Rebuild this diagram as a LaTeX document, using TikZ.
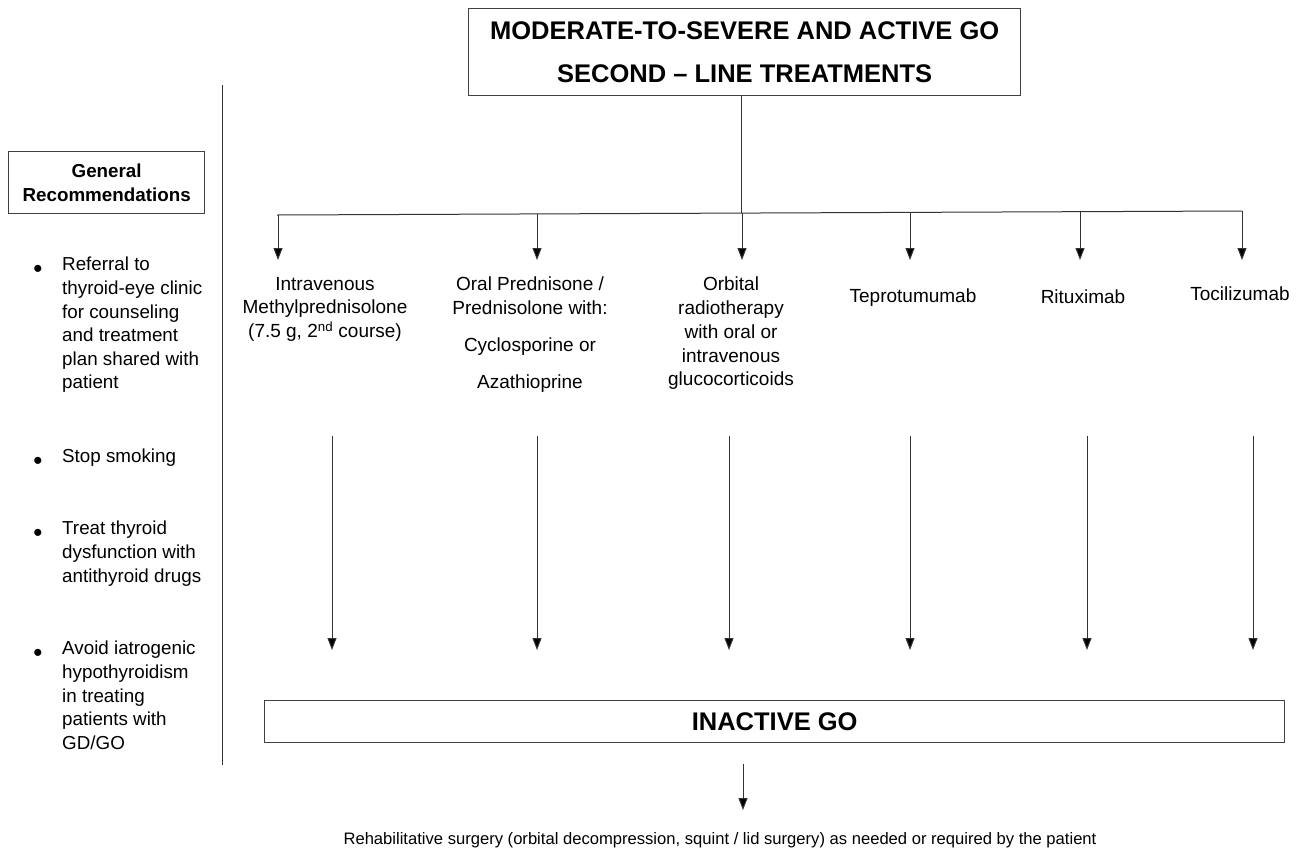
\documentclass[tikz,border=0pt]{standalone}
\usepackage{fontspec}
\setmainfont{Liberation Sans}
\usetikzlibrary{arrows.meta}
\begin{document}
\begin{tikzpicture}[x=1pt,y=-1pt,
  box/.style={draw=black!75,line width=1.3pt},
  lin/.style={draw=black!80,line width=1pt},
  arr/.style={lin,-{Triangle[width=9pt,length=12pt,fill=black]}},
  txt/.style={inner sep=0pt,align=center,font=\fontsize{19}{23.7}\selectfont},
  ltxt/.style={inner sep=0pt,align=left,anchor=north west,font=\fontsize{18.8}{23.6}\selectfont},
  bul/.style={inner sep=0pt,font=\fontsize{26}{26}\selectfont}
]
\useasboundingbox (0,0) rectangle (1301,857);
% top box
\node[box,minimum width=552pt,minimum height=87pt,align=center,
  font=\fontsize{25.5}{43}\bfseries\selectfont,anchor=north west,inner sep=0pt] (top) at (468,8)
  {MODERATE-TO-SEVERE AND ACTIVE GO\\SECOND -- LINE TREATMENTS};
% general rec box
\node[box,minimum width=196pt,minimum height=62pt,align=center,anchor=north west,inner sep=0pt,
  font=\fontsize{18.8}{23.5}\bfseries\selectfont] (gen) at (8,151)
  {General\\Recommendations};
% left separator
\coordinate (sepT) at (222,85);
\coordinate (sepB) at (222,765);
\draw[lin] (sepT) -- (sepB);
% bullets
\node[bul] (b1) at (38,271) {\textbullet};
\node[ltxt] (l1) at (62,257) {Referral to\\thyroid-eye clinic\\for counseling\\and treatment\\plan shared with\\patient};
\node[bul] (b2) at (38,463) {\textbullet};
\node[ltxt] (l2) at (62,449) {Stop smoking};
\node[bul] (b3) at (38,535) {\textbullet};
\node[ltxt] (l3) at (62,521) {Treat thyroid\\dysfunction with\\antithyroid drugs};
\node[bul] (b4) at (38,655) {\textbullet};
\node[ltxt] (l4) at (62,641) {Avoid iatrogenic\\hypothyroidism\\in treating\\patients with\\GD/GO};
% treatments
\node[txt,anchor=north] (t1) at (325,277) {Intravenous\\Methylprednisolone\\(7.5 g, 2\textsuperscript{nd} course)};
\node[txt,anchor=north] (t2) at (530,277) {Oral Prednisone /\\Prednisolone with:\\[13pt]Cyclosporine or\\[13pt]Azathioprine};
\node[txt,anchor=north] (t3) at (731,277) {Orbital\\radiotherapy\\with oral or\\intravenous\\glucocorticoids};
\node[txt,anchor=north] (t4) at (913,289) {Teprotumumab};
\node[txt,anchor=north] (t5) at (1083,290) {Rituximab};
\node[txt,anchor=north] (t6) at (1240,287) {Tocilizumab};
% bus
\coordinate (j0) at (741,213);
\coordinate (bL) at (277,215);
\coordinate (bR) at (1242,211);
\draw[lin] (top.south -| j0) -- (j0);
\draw[lin] (bL) -- (bR);
\foreach \i/\x/\y in {1/278/215,2/537/214,3/742/213,4/910/212,5/1080/211.5,6/1242/211}{
  \coordinate (d\i) at (\x,\y);
  \coordinate (e\i) at (\x,260);
  \draw[arr] (d\i) -- (e\i);
}
% inactive
\node[box,minimum width=1020pt,minimum height=42pt,anchor=north west,inner sep=0pt,
  font=\fontsize{25.5}{28}\bfseries\selectfont] (inact) at (264,700) {INACTIVE GO};
\foreach \i/\x in {1/332,2/537,3/729,4/910,5/1087,6/1253}{
  \coordinate (s\i) at (\x,436);
  \coordinate (f\i) at (\x,650);
  \draw[arr] (s\i) -- (f\i);
}
\coordinate (r0) at (743,764);
\coordinate (r1) at (743,810);
\draw[arr] (r0) -- (r1);
\node[txt,font=\fontsize{16.6}{20}\selectfont] (rehab) at (720,840) {Rehabilitative surgery (orbital decompression, squint / lid surgery) as needed or required by the patient};
\end{tikzpicture}
\end{document}
